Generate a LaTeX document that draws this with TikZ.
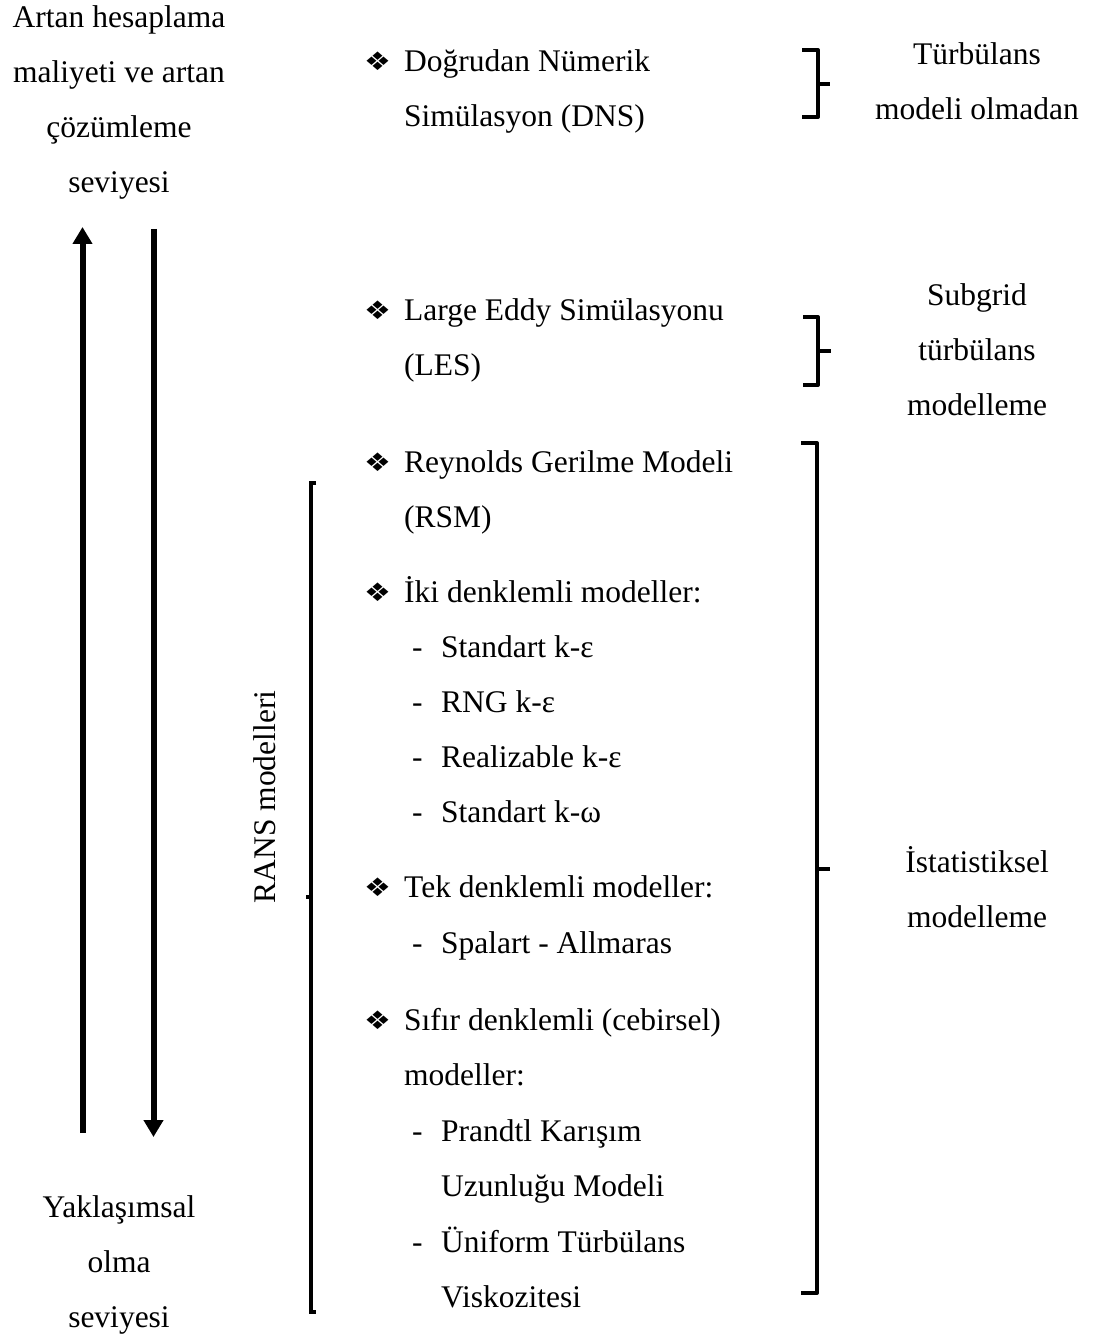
\documentclass[tikz,border=0pt]{standalone}
\usepackage{fontspec}
\setmainfont{Liberation Serif}
\newfontfamily\symfont{DejaVu Sans}
\usetikzlibrary{arrows.meta}
\begin{document}
\begin{tikzpicture}[x=1pt,y=-1pt,
  txt/.style={font=\fontsize{31.5}{55}\selectfont, inner sep=0pt},
  lt/.style={txt, anchor=base west},
  ct/.style={txt, anchor=base},
  bul/.style={inner sep=0pt, anchor=base west, font=\symfont\fontsize{30}{30}\selectfont},
  bigarrow/.style={line width=6pt, -{Triangle[width=19pt,length=17pt]}},
  brace/.style={line width=4pt, line join=round}]
\useasboundingbox (0,0) rectangle (1099,1340);

% left column
\node[ct] (l1) at (119,28) {Artan hesaplama};
\node[ct] (l2) at (119,83) {maliyeti ve artan};
\node[ct] (l3) at (119,138) {çözümleme};
\node[ct] (l4) at (119,193) {seviyesi};
\node[ct] (b1) at (119,1217) {Yaklaşımsal};
\node[ct] (b2) at (119,1272) {olma};
\node[ct] (b3) at (119,1327) {seviyesi};

\coordinate (upS) at (82.5,1133);
\coordinate (upE) at (82.5,227);
\coordinate (dnS) at (153.5,229);
\coordinate (dnE) at (153.5,1137);
\draw[bigarrow] (upS) -- (upE);
\draw[bigarrow] (dnS) -- (dnE);

% middle column
\node[bul] (s1) at (364,71) {\scalebox{1}[0.85]{❖}};
\node[lt] (t1) at (404,72) {Doğrudan Nümerik};
\node[lt] (t1b) at (404,127) {Simülasyon (DNS)};
\node[bul] (s2) at (364,319) {\scalebox{1}[0.85]{❖}};
\node[lt] (t2) at (404,320) {Large Eddy Simülasyonu};
\node[lt] (t2b) at (404,375) {(LES)};
\node[bul] (s3) at (364,471) {\scalebox{1}[0.85]{❖}};
\node[lt] (t3) at (404,472) {Reynolds Gerilme Modeli};
\node[lt] (t3b) at (404,527) {(RSM)};
\node[bul] (s4) at (364,601) {\scalebox{1}[0.85]{❖}};
\node[lt] (t4) at (404,602) {İki denklemli modeller:};
\node[lt] (d41) at (412,657) {-};
\node[lt] (t41) at (441,657) {Standart k-ε};
\node[lt] (d42) at (412,712) {-};
\node[lt] (t42) at (441,712) {RNG k-ε};
\node[lt] (d43) at (412,767) {-};
\node[lt] (t43) at (441,767) {Realizable k-ε};
\node[lt] (d44) at (412,822) {-};
\node[lt] (t44) at (441,822) {Standart k-ω};
\node[bul] (s5) at (364,896) {\scalebox{1}[0.85]{❖}};
\node[lt] (t5) at (404,897) {Tek denklemli modeller:};
\node[lt] (d51) at (412,953) {-};
\node[lt] (t51) at (441,953) {Spalart - Allmaras};
\node[bul] (s6) at (364,1029) {\scalebox{1}[0.85]{❖}};
\node[lt] (t6) at (404,1030) {Sıfır denklemli (cebirsel)};
\node[lt] (t6b) at (404,1085) {modeller:};
\node[lt] (d61) at (412,1141) {-};
\node[lt] (t61) at (441,1141) {Prandtl Karışım};
\node[lt] (t61b) at (441,1196) {Uzunluğu Modeli};
\node[lt] (d62) at (412,1252) {-};
\node[lt] (t62) at (441,1252) {Üniform Türbülans};
\node[lt] (t62b) at (441,1307) {Viskozitesi};

% RANS label
\node[txt, rotate=90] (rans) at (265,797) {RANS modelleri};

% right column
\node[ct] (r1) at (977,65) {Türbülans};
\node[ct] (r1b) at (977,120) {modeli olmadan};
\node[ct] (r2) at (977,305) {Subgrid};
\node[ct] (r2b) at (977,360) {türbülans};
\node[ct] (r2c) at (977,415) {modelleme};
\node[ct] (r3) at (977,872) {İstatistiksel};
\node[ct] (r3b) at (977,927) {modelleme};

% braces
\draw[brace] (802,50) -- (818,50) -- (818,117) -- (802,117);
\draw[brace] (818,84) -- (830,84);
\draw[brace] (803,317) -- (818,317) -- (818,385) -- (803,385);
\draw[brace] (818,351) -- (831,351);
\draw[brace] (801,443) -- (817,443) -- (817,1293) -- (801,1293);
\draw[brace] (817,869) -- (830,869);
\draw[line width=3.5pt] (316,483) -- (311,483) -- (311,1312) -- (316,1312);
\draw[line width=3.5pt] (311,897) -- (306,897);
\end{tikzpicture}
\end{document}
